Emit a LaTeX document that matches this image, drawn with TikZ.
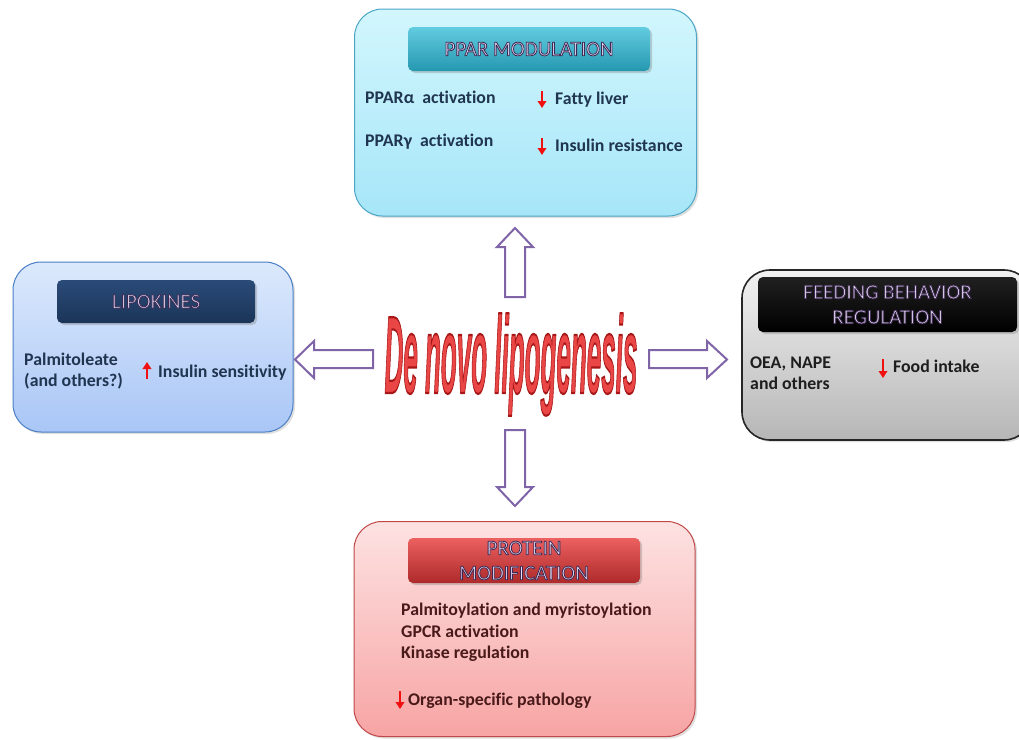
\documentclass[tikz,border=0pt]{standalone}
\usepackage{fontspec}
\setmainfont{Carlito}[Ligatures=NoCommon]
\newfontfamily\dnlfont{Liberation Sans}
\usetikzlibrary{shadows,arrows.meta}
\definecolor{pparTop}{HTML}{D2F6FD}
\definecolor{pparBot}{HTML}{A6E6F8}
\definecolor{pparLine}{HTML}{4BA6C6}
\definecolor{pparHdT}{HTML}{62CCE0}
\definecolor{pparHdB}{HTML}{2598B0}
\definecolor{lipTop}{HTML}{DCE9FC}
\definecolor{lipBot}{HTML}{A9C6F6}
\definecolor{lipLine}{HTML}{4A7FC6}
\definecolor{lipHdT}{HTML}{2A4A78}
\definecolor{lipHdB}{HTML}{1B3558}
\definecolor{feedTop}{HTML}{F2F2F2}
\definecolor{feedBot}{HTML}{B6B6B6}
\definecolor{feedHdT}{HTML}{202020}
\definecolor{feedHdB}{HTML}{000000}
\definecolor{protTop}{HTML}{FDE2E2}
\definecolor{protBot}{HTML}{F7A4A4}
\definecolor{protLine}{HTML}{C04848}
\definecolor{protHdT}{HTML}{EC6060}
\definecolor{protHdB}{HTML}{AE2A2A}
\definecolor{navyTxt}{HTML}{1F3550}
\definecolor{grayTxt}{HTML}{1E1E1E}
\definecolor{maroonTxt}{HTML}{4A1A1A}
\definecolor{hdText}{HTML}{E8DCF2}
\definecolor{arrPurple}{HTML}{8064A8}
\definecolor{dnlRed}{HTML}{EA4646}
\definecolor{upRed}{HTML}{F01010}
% text drawn filled and stroked: #1 stroke colour (r g b), #2 stroke width, #3 text
\newcommand{\outlinedtxt}[3]{{\special{pdf:literal direct #1 RG #2 w 1 j 2 Tr}#3\special{pdf:literal direct 0 Tr}}}
\newcommand{\hdtxt}[1]{\outlinedtxt{0.24 0.16 0.33}{0.8}{#1}}
\tikzset{
  outerbox/.style={rounded corners=28pt, line width=1pt, inner sep=0pt,
    drop shadow={opacity=0.25, shadow xshift=2pt, shadow yshift=-2pt}},
  headbar/.style={rounded corners=5pt, inner sep=0pt, align=center,
    text=hdText, font=\fontsize{21}{25}\selectfont,
    drop shadow={opacity=0.35, shadow xshift=2pt, shadow yshift=-2pt}},
  bodytxt/.style={anchor=base west, inner sep=0pt, font=\bfseries\fontsize{17.8}{21}\selectfont},
  blockarrow/.style={draw=arrPurple, line width=2pt, fill=white, line join=miter},
  redarrow/.style={draw=upRed, line width=2.8pt, -{Triangle[width=8.5pt,length=7pt]}}
}
\begin{document}
\begin{tikzpicture}[x=1pt,y=-1pt]
\useasboundingbox[fill=white] (0,0) rectangle (1019,739);

% ---------- outer boxes ----------
\node[outerbox, draw=pparLine, top color=pparTop, bottom color=pparBot,
  minimum width=342pt, minimum height=207pt] (ppar) at (525.5,112.5) {};
\node[outerbox, draw=lipLine, top color=lipTop, bottom color=lipBot,
  minimum width=280pt, minimum height=170pt] (lipo) at (153,347) {};
\node[outerbox, draw=black!85, line width=1.6pt, top color=feedTop, bottom color=feedBot,
  minimum width=290pt, minimum height=170pt] (feed) at (887,355) {};
\node[outerbox, draw=protLine, top color=protTop, bottom color=protBot,
  minimum width=341pt, minimum height=215pt] (prot) at (524.5,629) {};

% ---------- header bars ----------
\node[headbar, top color=pparHdT, bottom color=pparHdB,
  minimum width=242pt, minimum height=44pt] (pparh) at (529,49)
  {\hdtxt{PPAR MODULATION}};
\node[headbar, top color=lipHdT, bottom color=lipHdB,
  minimum width=198pt, minimum height=43pt] (lipoh) at (156,301.5)
  {\hdtxt{LIPOKINES}};
\node[headbar, top color=feedHdT, bottom color=feedHdB,
  minimum width=259pt, minimum height=55pt] (feedh) at (887.5,304.5)
  {\hdtxt{FEEDING BEHAVIOR}\\\hdtxt{REGULATION}};
\node[headbar, top color=protHdT, bottom color=protHdB,
  minimum width=232pt, minimum height=45pt] (proth) at (524,560.5)
  {\hdtxt{PROTEIN}\\\hdtxt{MODIFICATION}};

% ---------- PPAR texts ----------
\node[bodytxt, text=navyTxt] (t1) at (365,103) {PPARα\ \ activation};
\node[bodytxt, text=navyTxt] (t2) at (365,146) {PPARγ\ \ activation};
\node[bodytxt, text=navyTxt] (t3) at (555,104) {Fatty liver};
\node[bodytxt, text=navyTxt] (t4) at (555,151) {Insulin resistance};
\draw[redarrow] (542,91) -- (542,108);
\draw[redarrow] (542,138) -- (542,155);

% ---------- Lipokines texts ----------
\node[bodytxt, text=navyTxt] (l1) at (24,365) {Palmitoleate};
\node[bodytxt, text=navyTxt] (l2) at (24,386) {(and others?)};
\node[bodytxt, text=navyTxt] (l3) at (158,377) {Insulin sensitivity};
\draw[redarrow] (147,379) -- (147,362);

% ---------- Feeding texts ----------
\node[bodytxt, text=grayTxt] (f1) at (750,368) {OEA, NAPE};
\node[bodytxt, text=grayTxt] (f2) at (750,389) {and others};
\node[bodytxt, text=grayTxt] (f3) at (893,372) {Food intake};
\draw[redarrow] (883,359) -- (883,378);

% ---------- Protein texts ----------
\node[bodytxt, text=maroonTxt] (p1) at (401,615) {Palmitoylation and myristoylation};
\node[bodytxt, text=maroonTxt] (p2) at (401,637) {GPCR activation};
\node[bodytxt, text=maroonTxt] (p3) at (401,658) {Kinase regulation};
\node[bodytxt, text=maroonTxt] (p4) at (408,705) {Organ-specific pathology};
\draw[redarrow] (400,691) -- (400,709);

% ---------- central title ----------
\node[anchor=base, inner sep=0pt, text=dnlRed] (dnl) at (511,393)
  {\scalebox{1.3}[5.5]{\dnlfont\bfseries\itshape\fontsize{20}{20}\selectfont\outlinedtxt{0.66 0.09 0.09}{0.4}{De novo lipogenesis}}};

% ---------- block arrows (connectors) ----------
\coordinate (cu) at (515,297);
\coordinate (cd) at (515,430);
\coordinate (cl) at (373,359);
\coordinate (cr) at (649,359);
% up
\draw[blockarrow] (cu) ++(-10,0) -- ++(0,-50) -- ++(-8,0) -- (515,228) -- (533,247) -- ++(-8,0) -- ++(0,50) -- cycle;
% down
\draw[blockarrow] (cd) ++(-10,0) -- ++(0,57) -- ++(-8,0) -- (515,506) -- (533,487) -- ++(-8,0) -- ++(0,-57) -- cycle;
% left
\draw[blockarrow] (cl) ++(0,-9) -- (314,350) -- (314,341) -- (295,359.5) -- (314,378) -- (314,368) -- (373,368) -- cycle;
% right
\draw[blockarrow] (cr) ++(0,-9) -- (707,350) -- (707,341) -- (727,359.5) -- (707,378) -- (707,368) -- (649,368) -- cycle;
\end{tikzpicture}
\end{document}
